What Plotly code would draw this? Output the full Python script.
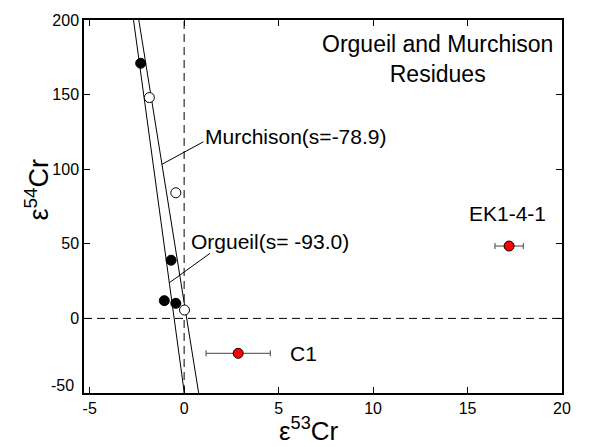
import plotly.graph_objects as go

# Filled circles (Orgueil residues)
org_x = [-2.30, -0.69, -1.05, -0.44]
org_y = [171.0, 39.0, 11.9, 10.1]
# Open circles (Murchison residues)
mur_x = [-1.84, -0.44, 0.02]
mur_y = [148.0, 84.2, 5.6]
# Red samples
red_names = ["C1", "EK1-4-1"]
red_x = [2.86, 17.2]
red_y = [-23.4, 48.5]
red_xerr = [1.70, 0.75]

# Regression lines: y = slope * x + intercept
line_names = ["Orgueil", "Murchison"]
line_slope = [-93.0, -78.9]
line_intercept = [-49.1, 10.7]

x_range = [-5.3, 20]
y_range = [-50, 200]
x_ticks = [-5, 0, 5, 10, 15, 20]
x_ticktext = ["-5", "0", "5", "10", "15", "20"]
y_ticks = [-50, 0, 50, 100, 150, 200]
y_ticktext = ["", "0", "50", "100", "150", "200"]

FONT = "Liberation Sans, Arial, sans-serif"

fig = go.Figure()

# dashed zero lines
fig.add_trace(go.Scatter(x=x_range, y=[0, 0], mode="lines",
                         line=dict(color="black", width=1, dash="8px,5px"),
                         hoverinfo="skip", showlegend=False))
fig.add_trace(go.Scatter(x=[0, 0], y=y_range, mode="lines",
                         line=dict(color="black", width=1, dash="8px,5px"),
                         hoverinfo="skip", showlegend=False))

# regression lines
for s, b in zip(line_slope, line_intercept):
    ys = y_range
    xs = [(y - b) / s for y in ys]
    fig.add_trace(go.Scatter(x=xs, y=ys, mode="lines",
                             line=dict(color="black", width=1),
                             showlegend=False))

# leader lines: from a point on each line to its label
org_leader_y = [23.9, 43.6]
mur_leader_y = [103.3, 118.4]
org_leader_x = [(org_leader_y[0] - line_intercept[0]) / line_slope[0], 1.37]
mur_leader_x = [(mur_leader_y[0] - line_intercept[1]) / line_slope[1], 1.02]
for lx, ly in [(org_leader_x, org_leader_y), (mur_leader_x, mur_leader_y)]:
    fig.add_trace(go.Scatter(x=lx, y=ly, mode="lines",
                             line=dict(color="black", width=1),
                             showlegend=False))

fig.add_trace(go.Scatter(x=org_x, y=org_y, mode="markers",
                         marker=dict(size=10, color="black",
                                     line=dict(color="black", width=1)),
                         showlegend=False))
fig.add_trace(go.Scatter(x=mur_x, y=mur_y, mode="markers",
                         marker=dict(size=10, color="white",
                                     line=dict(color="black", width=1)),
                         showlegend=False))
fig.add_trace(go.Scatter(x=red_x, y=red_y, mode="markers",
                         error_x=dict(type="data", array=red_xerr, visible=True,
                                      color="#444444", thickness=1, width=3),
                         marker=dict(size=10, color="red",
                                     line=dict(color="black", width=1)),
                         showlegend=False))

annots = [
    dict(x=1.0, y=121.6, text="Murchison(s=-78.9)", xanchor="left"),
    dict(x=0.26, y=51.4, text="Orgueil(s= -93.0)", xanchor="left"),
    dict(x=5.48, y=-23.4, text="C1", xanchor="left"),
    dict(x=17.1, y=70.6, text="EK1-4-1", xanchor="center"),
]
for a in annots:
    fig.add_annotation(x=a["x"], y=a["y"], text=a["text"], xanchor=a["xanchor"],
                       yanchor="middle", showarrow=False,
                       font=dict(family=FONT, size=21, color="black"))

fig.add_annotation(xref="paper", yref="paper", x=0.740, y=0.895,
                   text="Orgueil and Murchison<br>Residues", showarrow=False,
                   xanchor="center", yanchor="middle", align="center",
                   font=dict(family=FONT, size=23, color="black"))

# lowest y tick label, drawn slightly raised as in the original
fig.add_annotation(xref="paper", yref="paper", x=-0.017, y=0.02,
                   text=str(y_ticks[0]), showarrow=False,
                   xanchor="right", yanchor="middle",
                   font=dict(family=FONT, size=16, color="black"))

# axis titles
fig.add_annotation(xref="paper", yref="paper", x=0.471, y=-0.099,
                   text="ε<sup>53</sup>Cr", showarrow=False,
                   xanchor="center", yanchor="middle",
                   font=dict(family=FONT, size=26, color="black"))
fig.add_annotation(xref="paper", yref="paper", x=-0.098, y=0.546,
                   text="ε<sup>54</sup>Cr", showarrow=False, textangle=-90,
                   xanchor="center", yanchor="middle",
                   font=dict(family=FONT, size=27, color="black"))

axis_common = dict(showline=True, linecolor="black", linewidth=1.5, mirror="ticks",
                   ticks="inside", ticklen=6, tickcolor="black", tickwidth=1,
                   showgrid=False, zeroline=False,
                   tickfont=dict(family=FONT, size=16, color="black"))

fig.update_layout(
    width=597, height=447,
    margin=dict(l=84, r=35, t=20, b=54),
    paper_bgcolor="white", plot_bgcolor="white",
    xaxis=dict(range=x_range, tickvals=x_ticks, ticktext=x_ticktext, **axis_common),
    yaxis=dict(range=y_range, tickvals=y_ticks, ticktext=y_ticktext, **axis_common),
)

fig.write_html("out.html", config={"displayModeBar": False},
               post_script="document.body.style.margin='0';document.body.style.overflow='hidden';")
